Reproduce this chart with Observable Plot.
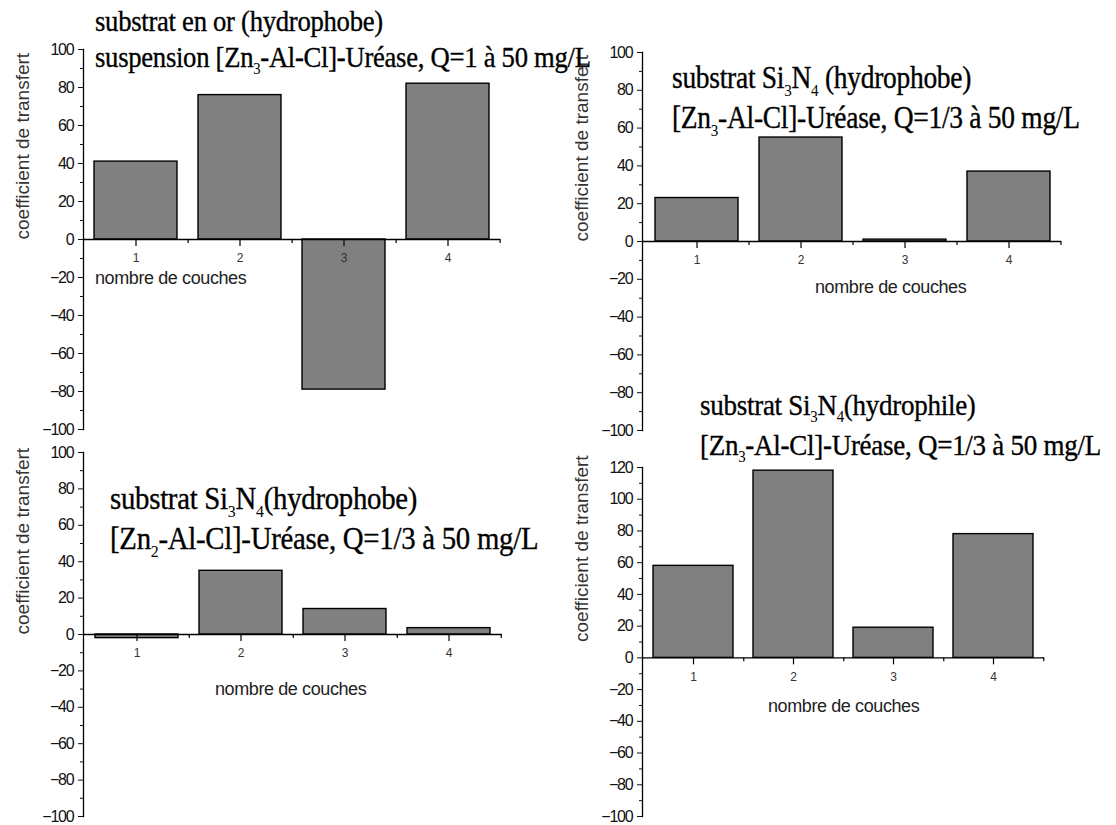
<!DOCTYPE html>
<html>
<head>
<meta charset="utf-8">
<script src="https://cdn.jsdelivr.net/npm/d3@7"></script>
<script src="https://cdn.jsdelivr.net/npm/@observablehq/plot@0.6"></script>
<style>
  html, body { margin: 0; padding: 0; background: #fff; }
  #root { position: relative; width: 1116px; height: 825px; overflow: hidden; background: #fff; }
  .panel { position: absolute; color: #111; }
  .panel [aria-label="y-axis tick label"] text { letter-spacing: -1.2px; }
  .title { position: absolute; font-family: "Liberation Serif", "Times New Roman", serif; font-size: 30px; line-height: 1; white-space: nowrap; color: #000; transform: scaleX(0.9); transform-origin: 0 0; -webkit-text-stroke: 0.35px #000; letter-spacing: -0.3px; }
  .title sub { font-size: 55%; vertical-align: -0.45em; line-height: 0; -webkit-text-stroke: 0; }
  .xlab { position: absolute; font-family: "Liberation Sans", Arial, sans-serif; font-size: 18px; line-height: 1; white-space: nowrap; color: #222; letter-spacing: -0.4px; }
</style>
</head>
<body>
<div id="root"></div>
<script>
// ---- data ----
const categories = [1, 2, 3, 4];
const goldHydrophobeZn3 = [41, 76, -79, 82];
const siHydrophobeZn3 = [23, 55, 1, 37];
const siHydrophobeZn2 = [-2, 35, 14, 3.5];
const siHydrophileZn3 = [58, 118, 19, 78];
const yTicks100 = [-100, -80, -60, -40, -20, 0, 20, 40, 60, 80, 100];
const yTicks120 = [-100, -80, -60, -40, -20, 0, 20, 40, 60, 80, 100, 120];
const yLabel = "coefficient de transfert";
const xLabel = "nombre de couches";

const root = document.getElementById("root");

function panel(values, cfg) {
  const data = categories.map((c, i) => ({c, v: values[i]}));
  const ticks = cfg.ticks;
  const minor = d3.range(ticks[0], ticks[ticks.length - 1] + 0.1, 10).filter(t => !ticks.includes(t));
  const il = cfg.il || 0;
  const step = (cfg.width - cfg.ml - cfg.mr - il) / categories.length;
  const p = Plot.plot({
    width: cfg.width, height: cfg.height,
    marginLeft: cfg.ml, marginRight: cfg.mr, marginTop: cfg.mt, marginBottom: cfg.mb,
    style: {background: "transparent", overflow: "visible"},
    x: {domain: categories, paddingInner: 0.2, paddingOuter: 0.1, insetLeft: il, axis: null},
    y: {domain: [ticks[0], ticks[ticks.length - 1]], axis: null},
    marks: [
      Plot.barY(data, {x: "c", y: "v", fill: "#808080", stroke: "#000", strokeWidth: 1.4}),
      Plot.ruleY([0], {stroke: "#000", strokeWidth: 1.3}),
      Plot.ruleX(categories, {x: d => d, y1: 0, y2: 0, insetBottom: -7, stroke: "#000", strokeWidth: 1.2}),
      Plot.ruleX(categories, {x: d => d, y1: 0, y2: 0, dx: step / 2, insetBottom: -4, stroke: "#000", strokeWidth: 1.2}),
      Plot.text(categories, {x: d => d, y: 0, dy: 19, text: d => String(d), fontSize: 12, fontFamily: "Liberation Sans, Arial, sans-serif", fill: "#333"}),
      Plot.frame({anchor: "left", stroke: "#000", strokeWidth: 1.3}),
      Plot.axisY({ticks: ticks, tickSize: 5, tickPadding: 5, label: null, fontSize: 16, fontFamily: "Liberation Sans, Arial, sans-serif"}),
      Plot.axisY({ticks: minor, tickSize: 3, tickFormat: () => "", label: null}),
      Plot.text([yLabel], {frameAnchor: "left", rotate: -90, dx: -61, fontSize: 19, fontFamily: "Liberation Sans, Arial, sans-serif", fill: "#333"})
    ]
  });
  p.classList.add("panel");
  p.style.left = cfg.left + "px";
  p.style.top = cfg.top + "px";
  root.appendChild(p);
}

panel(goldHydrophobeZn3, {left: 0, top: 30, width: 520, height: 420, ml: 83, mr: 20, mt: 19, mb: 21, ticks: yTicks100});
panel(siHydrophobeZn3, {left: 560, top: 30, width: 520, height: 420, ml: 82, mr: 19, mt: 22, mb: 20, il: 3, ticks: yTicks100});
panel(siHydrophobeZn2, {left: 0, top: 430, width: 520, height: 395, ml: 83, mr: 18, mt: 22, mb: 9, il: 1, ticks: yTicks100});
panel(siHydrophileZn3, {left: 560, top: 440, width: 520, height: 385, ml: 82, mr: 36, mt: 27, mb: 9, ticks: yTicks120});

function addText(cls, html, left, top, size) {
  const d = document.createElement("div");
  d.className = cls;
  d.innerHTML = html;
  d.style.left = left + "px";
  d.style.top = top + "px";
  if (size) d.style.fontSize = size + "px";
  root.appendChild(d);
}

addText("title", "substrat en or (hydrophobe)", 95, 7, 29.6);
addText("title", "suspension [Zn<sub>3</sub>-Al-Cl]-Uréase, Q=1 à 50 mg/L", 95, 43, 29.6);
addText("title", "substrat Si<sub>3</sub>N<sub>4</sub> (hydrophobe)", 672, 63, 30.5);
addText("title", "[Zn<sub>3</sub>-Al-Cl]-Uréase, Q=1/3 à 50 mg/L", 672, 103, 30.5);
addText("title", "substrat Si<sub>3</sub>N<sub>4</sub>(hydrophobe)", 110, 482, 32);
addText("title", "[Zn<sub>2</sub>-Al-Cl]-Uréase, Q=1/3 à 50 mg/L", 110, 522, 32);
addText("title", "substrat Si<sub>3</sub>N<sub>4</sub>(hydrophile)", 700, 390);
addText("title", "[Zn<sub>3</sub>-Al-Cl]-Uréase, Q=1/3 à 50 mg/L", 700, 430);

addText("xlab", xLabel, 95, 269);
addText("xlab", xLabel, 815, 278);
addText("xlab", xLabel, 215, 680);
addText("xlab", xLabel, 768, 697);
</script>
</body>
</html>
